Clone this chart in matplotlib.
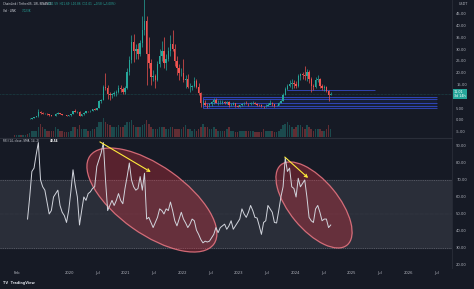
"""
grafico_link_rsi.py

Recrea la captura de TradingView de ChainLink / TetherUS (1W, BINANCE):
velas quincenales con volumen arriba, RSI(14) abajo con las dos zonas de
divergencia marcadas (elipses rojas + flechas amarillas).
"""

import numpy as np
import pandas as pd
import matplotlib
matplotlib.use("Agg")  # sin entorno grafico, solo guardar .png
import matplotlib.pyplot as plt
import matplotlib.dates as mdates
from matplotlib.patches import Ellipse, Rectangle
from matplotlib.transforms import ScaledTranslation, blended_transform_factory

# ------------------------------------------------------------------
# Datos (velas cada 14 dias, desde 2019-01-14)
# ------------------------------------------------------------------
INICIO_VELAS = "2019-01-14"
APERTURA_INICIAL = 0.50

cierre = [
    0.45, 0.46, 0.50, 0.45, 0.47, 0.48, 0.45, 0.60, 0.95, 1.15, 1.50, 3.50, 2.90,
    2.60, 2.70, 2.35, 2.00, 1.75, 1.65, 2.70, 2.95, 2.65, 2.20, 2.05, 1.85, 1.95,
    2.60, 3.60, 3.40, 3.50, 1.80, 2.40, 3.10, 3.70, 3.60, 3.90, 4.50, 4.40, 5.00,
    8.00, 8.50, 14.0, 13.5, 11.0, 10.5, 10.8, 11.5, 12.0, 13.5, 13.0, 12.0, 13.5,
    20.5, 25.5, 33.0, 29.0, 30.0, 28.0, 32.5, 38.0, 42.0, 28.0, 24.0, 18.0, 18.5,
    17.0, 23.5, 27.0, 29.0, 24.0, 26.0, 29.0, 32.0, 30.0, 25.0, 22.0, 20.0, 20.0,
    17.0, 17.5, 14.0, 14.0, 14.5, 16.5, 14.0, 11.5, 7.0, 7.3, 6.5, 6.3, 6.6,
    7.5, 8.5, 7.2, 7.2, 7.3, 7.6, 7.2, 7.5, 6.5, 6.5, 7.0, 6.0, 5.6,
    6.2, 6.9, 6.9, 6.8, 6.6, 7.0, 7.4, 6.9, 6.4, 6.3, 5.9, 5.8, 6.1,
    6.5, 7.3, 6.7, 6.0, 6.1, 7.3, 8.0, 10.7, 13.0, 14.5, 15.3, 15.7, 15.1,
    14.4, 18.6, 19.3, 19.0, 18.6, 20.2, 17.4, 14.3, 14.0, 16.8, 17.5, 14.5, 13.5,
    13.8, 12.2, 10.5, 11.0,
]
maximo = [
    0.55, 0.50, 0.54, 0.52, 0.50, 0.52, 0.50, 0.65, 1.05, 1.25, 1.55, 4.50, 4.00,
    3.20, 3.00, 2.80, 2.40, 2.00, 1.80, 2.90, 3.30, 3.00, 2.70, 2.30, 2.10, 2.05,
    2.70, 4.00, 4.70, 4.00, 3.60, 2.60, 3.40, 4.00, 4.00, 4.20, 4.80, 4.90, 5.20,
    8.60, 9.00, 15.0, 20.0, 15.0, 12.0, 11.5, 12.3, 12.5, 15.0, 15.0, 13.8, 14.5,
    22.0, 27.0, 36.0, 36.5, 32.0, 32.5, 34.0, 44.0, 52.9, 44.0, 35.0, 26.0, 21.0,
    19.5, 25.0, 30.0, 33.5, 35.0, 28.0, 31.0, 36.0, 38.0, 32.0, 27.0, 23.5, 22.0,
    26.0, 19.0, 19.5, 15.5, 15.0, 18.0, 17.5, 15.5, 12.0, 8.5, 8.3, 7.0, 7.0,
    7.9, 9.2, 9.5, 8.3, 8.3, 8.3, 7.9, 8.2, 8.0, 7.0, 7.8, 7.0, 6.2,
    6.5, 7.2, 7.5, 8.0, 7.3, 7.5, 8.0, 7.6, 7.2, 6.7, 6.7, 6.1, 6.9,
    7.4, 8.4, 7.6, 6.5, 6.5, 7.8, 8.4, 11.6, 13.8, 15.4, 17.0, 17.5, 16.8,
    16.5, 19.5, 20.0, 20.5, 22.8, 21.5, 21.0, 18.0, 15.3, 18.0, 19.0, 17.6, 15.2,
    14.7, 14.2, 12.6, 11.7,
]
minimo = [
    0.38, 0.42, 0.44, 0.43, 0.43, 0.45, 0.42, 0.44, 0.58, 0.90, 1.10, 1.45, 2.60,
    2.40, 2.40, 2.20, 1.80, 1.60, 1.50, 1.60, 2.50, 2.50, 2.10, 1.95, 1.70, 1.75,
    1.85, 2.50, 3.20, 3.00, 1.60, 1.70, 2.30, 3.00, 3.30, 3.50, 3.90, 4.10, 4.20,
    4.90, 7.20, 8.30, 12.5, 9.0, 8.5, 9.5, 10.0, 10.0, 11.5, 11.8, 11.0, 11.0,
    13.0, 19.0, 24.0, 24.5, 26.0, 26.0, 27.0, 31.0, 36.0, 15.0, 22.0, 15.0, 16.5,
    13.5, 16.5, 22.5, 25.0, 22.0, 21.0, 25.0, 27.0, 29.0, 23.0, 19.0, 17.0, 18.5,
    16.0, 13.5, 13.5, 12.0, 12.5, 14.0, 13.5, 10.5, 5.5, 6.5, 6.0, 5.2, 5.6,
    6.0, 6.8, 7.0, 6.5, 6.8, 6.8, 6.8, 6.8, 5.6, 5.8, 6.4, 5.6, 5.3,
    5.4, 6.0, 6.3, 6.6, 5.9, 6.4, 6.9, 6.6, 6.1, 6.0, 5.6, 4.9, 5.6,
    6.0, 7.0, 6.0, 5.5, 5.8, 6.2, 7.2, 7.9, 10.5, 12.5, 14.0, 13.3, 13.7,
    13.6, 13.8, 17.0, 17.5, 17.0, 16.5, 15.8, 12.0, 12.8, 13.5, 16.2, 13.5, 12.5,
    12.3, 11.8, 8.0, 10.4,
]
volumen = [
    1, 1, 1, 1, 1, 1, 1.5, 2, 3, 3, 3, 5, 7, 5, 4, 3, 3, 3, 3, 5, 4, 3, 3, 2.5, 2.5, 2.5,
    3, 5, 5, 4, 6, 4, 4, 4, 3, 3, 4, 4, 5, 8, 8, 10, 8, 7, 6, 5, 5, 5, 6, 5, 5, 6,
    8, 8, 9, 6, 5, 5, 5, 6, 7, 9, 7, 5, 4, 4, 4, 5, 5, 5, 4, 4, 5, 5, 4, 4, 4, 4,
    5, 6, 4, 4, 3, 4, 3, 4, 5, 7, 5, 5, 4, 4, 5, 4, 3, 3, 3, 3, 4, 5, 3, 3, 2.5, 2.5,
    3, 3, 3, 3, 3, 3, 3, 2.5, 2.5, 2.5, 2.5, 4, 3, 3, 3, 3, 2.5, 2.5, 3, 4, 6, 7, 8, 6, 5, 4,
    5, 6, 6, 5, 4, 6, 5, 4, 3, 4, 4, 4, 3, 3, 4, 6, 4,
]

# RSI(14) leido cada 14 dias desde 2019-04-08
INICIO_RSI = "2019-04-08"
rsi = [
    47, 60, 75, 77, 85, 92, 70, 66, 64, 57, 50, 52, 60, 62, 64, 55, 51, 49, 45, 52,
    63, 76, 67, 60, 43.5, 52, 60, 58, 62, 63, 65, 66, 78, 82, 86, 92, 70, 52, 55, 58,
    55, 58, 62, 58, 56, 65, 72, 80, 70, 66, 64, 65, 72, 64, 74, 47, 48, 45, 42, 45,
    48, 53, 52, 50, 53, 52, 57, 52, 46, 43, 47, 51, 47, 44.7, 42, 44, 47, 46, 40.5, 38,
    35, 33, 34, 33.5, 34, 36, 38, 42, 39, 42, 43, 44, 41, 43, 46, 41, 43, 45, 47, 53,
    50, 48, 51, 55, 52, 48, 47.6, 43, 38, 45, 46, 55, 53, 51, 45, 44.7, 52, 60, 66, 83,
    75, 77, 66, 65, 60, 71, 66, 68, 70, 60, 48, 46, 45, 53, 55, 51, 46, 47, 47, 42,
    43.5,
]

# eje temporal y escalas
LIMITES_X = ("2018-10-12", "2026-10-12")
ticks_fecha = ["2019-02-01", "2020-01-01", "2020-07-01", "2021-01-01", "2021-07-01",
               "2022-01-01", "2022-07-01", "2023-01-01", "2023-07-01", "2024-01-01",
               "2024-07-01", "2025-01-01", "2025-07-01", "2026-01-01", "2026-07-01"]
etiquetas_fecha = ["Feb", "2020", "Jul", "2021", "Jul", "2022", "Jul", "2023", "Jul",
                   "2024", "Jul", "2025", "Jul", "2026", "Jul"]
ticks_precio = [-5, 0, 5, 15, 20, 25, 30, 35, 40, 45]  # 10.00 queda tapado por la etiqueta
ticks_rsi = [20, 30, 40, 50, 60, 70, 80, 90]

# dibujos del autor: zonas de soporte (fecha ini, fecha fin, precios)
ZONA_SOPORTE = ("2022-05-16", "2026-07-06", [5.0, 5.9, 7.1, 8.9, 9.9])
LINEA_RESISTENCIA = ("2023-11-09", "2025-06-01", 12.7)
ULTIMO_PRECIO = 11.01

# elipses: centro (fecha, rsi), ancho y alto en pixeles, angulo
ELIPSES = [("2021-06-20", 58.2, 152, 68, -35.4),
           ("2024-05-03", 55.3, 104, 49, -50.5)]
# flechas: (fecha, rsi) inicio -> (fecha, rsi) fin
FLECHAS = [(("2020-07-19", 92.4), ("2021-06-13", 74.7)),
           (("2023-10-27", 83.5), ("2024-03-26", 71.2))]

# ------------------------------------------------------------------
# Estilo (tema oscuro de TradingView)
# ------------------------------------------------------------------
FONDO = "#161a25"
BANDA = "#2a2e39"
TEXTO = "#b2b5be"
VERDE = "#26a69a"
ROJO = "#ef5350"
W, H = 474, 289


def fnum(fecha):
    return mdates.date2num(pd.Timestamp(fecha))


fig = plt.figure(figsize=(W / 100, H / 100), dpi=100)
fig.patch.set_facecolor(FONDO)

ancho_graf = 452 / W
ax_p = fig.add_axes([0, 1 - 137 / H, ancho_graf, 137 / H])
ax_r = fig.add_axes([0, 1 - 268 / H, ancho_graf, 130 / H], sharex=ax_p)
ax_v = ax_p.twinx()  # volumen superpuesto (twinx manda los ticks de ax_p a la izquierda)

for ax in (ax_p, ax_r):
    ax.set_facecolor(FONDO)
    for lado in ("left", "bottom", "top"):
        ax.spines[lado].set_visible(False)
    ax.spines["right"].set_color("#2a2e39")
    ax.spines["right"].set_linewidth(0.6)
    ax.yaxis.tick_right()
    ax.tick_params(axis="both", length=0, labelsize=2.7, colors=TEXTO, pad=3)
ax_r.spines["top"].set_visible(True)
ax_r.spines["top"].set_color("#2a2e39")
ax_r.spines["top"].set_linewidth(0.8)

# --- velas ---
fechas = pd.date_range(INICIO_VELAS, periods=len(cierre), freq="14D")
apertura = [APERTURA_INICIAL] + cierre[:-1]
colores = [VERDE if c >= o else ROJO for o, c in zip(apertura, cierre)]
ax_p.vlines(fechas, minimo, maximo, colors=colores, lw=0.5, zorder=3)
ax_p.bar(fechas, np.array(cierre) - np.array(apertura), bottom=apertura,
         width=9, color=colores, zorder=3, linewidth=0)

# --- volumen ---
ax_v.bar(fechas, volumen, width=10, color=colores, alpha=0.35, linewidth=0)
ax_v.set_ylim(0, max(volumen) / 0.14)
ax_v.set_yticks([])
for lado in ax_v.spines:
    ax_v.spines[lado].set_visible(False)

# --- zonas dibujadas ---
ini, fin, niveles = ZONA_SOPORTE
ax_p.add_patch(Rectangle((fnum(ini), min(niveles)), fnum(fin) - fnum(ini),
                         max(niveles) - min(niveles), facecolor="#2962ff",
                         alpha=0.08, edgecolor="none", zorder=1))
ax_p.hlines(niveles, fnum(ini), fnum(fin), colors="#3d5afe", lw=0.6, alpha=0.75, zorder=2)
ax_p.vlines(fnum(ini), min(niveles), max(niveles), colors="#3d5afe", lw=0.6, alpha=0.75)
ini, fin, nivel = LINEA_RESISTENCIA
ax_p.hlines(nivel, fnum(ini), fnum(fin), colors="#3d5afe", lw=0.6, alpha=0.75, zorder=2)
ax_p.axhline(ULTIMO_PRECIO, color=VERDE, lw=0.4, ls=(0, (1, 1.5)), alpha=0.6)

ax_p.set_xlim(fnum(LIMITES_X[0]), fnum(LIMITES_X[1]))
ax_p.set_ylim(-7.2, 50.8)
ax_p.set_yticks(ticks_precio)
ax_p.set_yticklabels([f"{v:.2f}" for v in ticks_precio])
ax_p.tick_params(axis="x", labelbottom=False)

# etiqueta del ultimo precio sobre el eje
tr_p = blended_transform_factory(ax_p.transAxes, ax_p.transData)
ax_p.text(1.004, ULTIMO_PRECIO, f"{ULTIMO_PRECIO:.2f}\n3d 14h", transform=tr_p,
          fontsize=2.4, color="white", ha="left", va="center", linespacing=1.1,
          bbox=dict(boxstyle="square,pad=0.35", facecolor=VERDE, edgecolor="none"),
          clip_on=False, zorder=10)

# --- RSI ---
fechas_rsi = pd.date_range(INICIO_RSI, periods=len(rsi), freq="14D")
ax_r.axhspan(30, 70, color=BANDA, zorder=0)
ax_r.axhline(70, color="#787b86", lw=0.4, ls=(0, (2, 2)), zorder=1)
ax_r.axhline(30, color="#787b86", lw=0.4, ls=(0, (2, 2)), zorder=1)
ax_r.axhline(50, color="#787b86", lw=0.3, ls=(0, (1, 2)), alpha=0.5, zorder=1)

for fecha, valor, ancho, alto, angulo in ELIPSES:
    tr = fig.dpi_scale_trans + ScaledTranslation(fnum(fecha), valor, ax_r.transData)
    ax_r.add_patch(Ellipse((0, 0), ancho / 100, alto / 100, angle=angulo, transform=tr,
                           facecolor="#f23645", alpha=0.3, edgecolor="none", zorder=2))
    ax_r.add_patch(Ellipse((0, 0), ancho / 100, alto / 100, angle=angulo, transform=tr,
                           facecolor="none", edgecolor="#f77c88", lw=0.9, alpha=0.8, zorder=2))

ax_r.plot(fechas_rsi, rsi, color="#d1d4dc", lw=0.7, zorder=4)

for (f0, v0), (f1, v1) in FLECHAS:
    ax_r.annotate("", xy=(fnum(f1), v1), xytext=(fnum(f0), v0),
                  arrowprops=dict(arrowstyle="->", color="#ffeb3b", lw=0.8,
                                  shrinkA=0, shrinkB=0, mutation_scale=5),
                  zorder=5)

ax_r.set_ylim(18.2, 94.7)
ax_r.set_yticks(ticks_rsi)
ax_r.set_yticklabels([f"{v:.2f}" for v in ticks_rsi])
ax_r.set_xticks([fnum(d) for d in ticks_fecha])
ax_r.set_xticklabels(etiquetas_fecha)
ax_r.tick_params(axis="x", pad=2.5)


# --- textos de cabecera ---
def texto(x, y, s, color=TEXTO, size=2.0, **kw):
    fig.text(x / W, 1 - y / H, s, color=color, fontsize=size, va="center", ha="left", **kw)


texto(3, 4, "ChainLink / TetherUS, 1W, BINANCE", color="#d1d4dc")
texto(48, 4, "O11.59  H11.69  L10.86  C11.01  \u22120.58 (\u22125.00%)", color=VERDE)
texto(3, 11, "Vol \u00b7 LINK", color="#d1d4dc")
texto(22, 11, "7.023K", color=VERDE)
texto(3, 141, "RSI (14, close, SMA, 14, 2)", color="#d1d4dc")
texto(50, 141, "43.54", color="white", weight="bold")
texto(3, 283, "TV  TradingView", color="#d1d4dc", size=2.5, weight="bold")
fig.text(463 / W, 1 - 4 / H, "USDT", color=TEXTO, fontsize=2.4, ha="center", va="center")

fig.savefig("out.png", dpi=100, facecolor=FONDO)
